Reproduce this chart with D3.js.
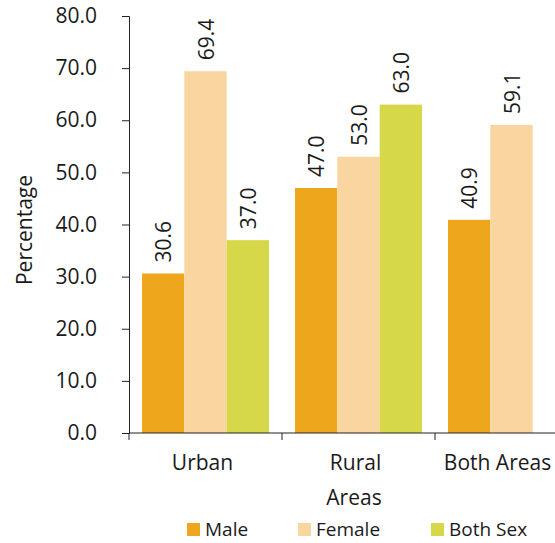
<!DOCTYPE html>
<meta charset="utf-8">
<style>
  body { margin: 0; background: #fff; }
  text { font-family: "Open Sans", Lato, sans-serif; fill: #1a1a1a; }
</style>
<body>
<script src="https://d3js.org/d3.v7.min.js"></script>
<script>

// data
var areas = ["Urban", "Rural", "Both Areas"];
var series = ["Male", "Female", "Both Sex"];
var male = [30.6, 47.0, 40.9];
var female = [69.4, 53.0, 59.1];
var bothSex = [37.0, 63.0, null];
var yTicks = [0, 10, 20, 30, 40, 50, 60, 70, 80];

var colors = ["#EEA61D", "#F9D59F", "#D6D84A"];

var W = 555, H = 543;
var svg = d3.select("body").append("svg")
    .attr("width", W)
    .attr("height", H);

// scales
var x0 = d3.scaleBand().domain(areas).range([129, 588]).paddingInner(0).paddingOuter(0);
var x1 = d3.scaleBand().domain(series).range([13, 140]);
var y = d3.scaleLinear().domain([0, 80]).range([433, 16]);

var values = [male, female, bothSex];
var rows = areas.map(function(a, i) {
  return series.map(function(s, j) { return {area: a, key: s, value: values[j][i]}; })
    .filter(function(d) { return d.value != null; });
});

// bars
var g = svg.selectAll(".grp")
    .data(rows)
  .enter().append("g")
    .attr("transform", function(d, i) { return "translate(" + x0(areas[i]) + ",0)"; });

g.selectAll("rect")
    .data(function(d) { return d; })
  .enter().append("rect")
    .attr("x", function(d) { return x1(d.key); })
    .attr("y", function(d) { return y(d.value); })
    .attr("width", x1.bandwidth())
    .attr("height", function(d) { return y(0) - y(d.value); })
    .attr("fill", function(d) { return colors[series.indexOf(d.key)]; });

// value labels, rotated
g.selectAll(".lbl")
    .data(function(d) { return d; })
  .enter().append("text")
    .attr("transform", function(d) {
      return "translate(" + (x1(d.key) + x1.bandwidth() / 2 + 8) + "," + (y(d.value) - 11) + ") rotate(-90)";
    })
    .style("font-size", "21px")
    .text(function(d) { return d.value.toFixed(1); });

// y axis
var yAxis = svg.append("g")
    .attr("transform", "translate(129,0)")
    .call(d3.axisLeft(y).tickValues(yTicks).tickSize(7).tickPadding(25)
      .tickFormat(function(d) { return d.toFixed(1); }));
yAxis.selectAll("text").style("font-size", "21px").attr("fill", "#1a1a1a");

// x axis
var xAxis = svg.append("g")
    .attr("transform", "translate(0,433)")
    .call(d3.axisBottom(x0).tickSize(7).tickPadding(15));
xAxis.select(".domain").attr("d", "M129,0H588");
xAxis.selectAll(".tick line").attr("transform", "translate(" + (-x0.bandwidth() / 2) + ",0)");
xAxis.selectAll(".tick").filter(function(d, i) { return i == 2; })
  .append("line").attr("stroke", "currentColor").attr("y2", 7)
  .attr("transform", "translate(" + (x0.bandwidth() / 2) + ",0)");
xAxis.selectAll("text").style("font-size", "21px").attr("fill", "#1a1a1a");
svg.selectAll(".domain, .tick line").attr("stroke", "#222");

// nudge category labels to where the picture has them
xAxis.selectAll(".tick text").attr("dx", function(d, i) { return [-3, -3, -14][i]; });

// axis titles
svg.append("text")
    .attr("x", 354).attr("y", 505)
    .attr("text-anchor", "middle")
    .style("font-size", "21px")
    .text("Areas");

svg.append("text")
    .attr("transform", "translate(32,230) rotate(-90)")
    .attr("text-anchor", "middle")
    .style("font-size", "21px")
    .text("Percentage");

// legend
var legX = [187, 298, 431];
var leg = svg.selectAll(".leg")
    .data(series)
  .enter().append("g")
    .attr("transform", function(d, i) { return "translate(" + legX[i] + ",523)"; });
leg.append("rect").attr("width", 13).attr("height", 13)
    .attr("fill", function(d, i) { return colors[i]; });
leg.append("text").attr("x", 18).attr("y", 13)
    .style("font-size", "19px")
    .text(function(d) { return d; });

</script>
</body>
